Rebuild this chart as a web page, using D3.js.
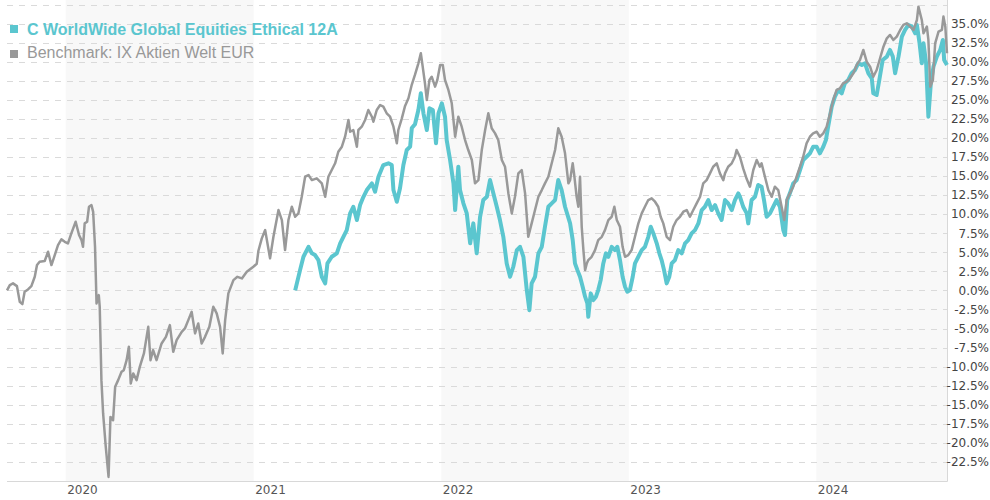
<!DOCTYPE html>
<html lang="en">
<head>
<meta charset="UTF-8">
<title>C WorldWide Global Equities Ethical 12A</title>
<script src="https://d3js.org/d3.v7.min.js"></script>
<style>
  body { margin: 0; background: #fff; }
  svg { display: block; }
</style>
</head>
<body>
<svg id="chart" width="990" height="500"></svg>
<script>
// series names
var fundName = "C WorldWide Global Equities Ethical 12A";
var benchName = "Benchmark: IX Aktien Welt EUR";

// dates as decimal years, values in %
var benchDates = [2019.687,2019.702,2019.719,2019.740,2019.755,2019.769,2019.781,2019.799,2019.817,2019.835,
  2019.847,2019.861,2019.888,2019.906,2019.924,2019.936,2019.959,2019.977,2019.995,2020.012,
  2020.030,2020.053,2020.071,2020.084,2020.092,2020.101,2020.114,2020.124,2020.137,2020.146,
  2020.156,2020.164,2020.176,2020.181,2020.190,2020.199,2020.213,2020.228,2020.238,2020.252,
  2020.263,2020.279,2020.297,2020.309,2020.324,2020.336,2020.346,2020.359,2020.377,2020.394,
  2020.416,2020.439,2020.451,2020.465,2020.483,2020.510,2020.533,2020.554,2020.572,2020.590,
  2020.617,2020.634,2020.652,2020.670,2020.688,2020.705,2020.723,2020.741,2020.764,2020.785,
  2020.803,2020.821,2020.835,2020.848,2020.865,2020.892,2020.913,2020.937,2020.963,2020.998,
  2021.016,2021.025,2021.043,2021.061,2021.087,2021.105,2021.132,2021.150,2021.167,2021.185,
  2021.203,2021.221,2021.238,2021.256,2021.274,2021.292,2021.310,2021.336,2021.363,2021.381,
  2021.398,2021.416,2021.434,2021.451,2021.470,2021.487,2021.505,2021.514,2021.531,2021.550,
  2021.558,2021.576,2021.594,2021.611,2021.630,2021.638,2021.656,2021.674,2021.691,2021.709,
  2021.727,2021.745,2021.763,2021.771,2021.789,2021.807,2021.825,2021.843,2021.860,2021.878,
  2021.891,2021.901,2021.913,2021.923,2021.937,2021.949,2021.967,2021.979,2021.994,2022.008,
  2022.020,2022.038,2022.056,2022.074,2022.091,2022.109,2022.127,2022.144,2022.163,2022.180,
  2022.198,2022.216,2022.234,2022.251,2022.269,2022.287,2022.304,2022.323,2022.340,2022.358,
  2022.376,2022.393,2022.411,2022.429,2022.447,2022.464,2022.482,2022.500,2022.518,2022.536,
  2022.553,2022.571,2022.589,2022.607,2022.624,2022.642,2022.660,2022.678,2022.687,2022.701,
  2022.708,2022.722,2022.731,2022.740,2022.749,2022.758,2022.767,2022.776,2022.784,2022.802,
  2022.820,2022.837,2022.856,2022.873,2022.891,2022.909,2022.923,2022.936,2022.953,2022.967,
  2022.980,2022.997,2023.015,2023.033,2023.051,2023.069,2023.086,2023.104,2023.122,2023.140,
  2023.157,2023.170,2023.184,2023.202,2023.220,2023.237,2023.255,2023.273,2023.291,2023.309,
  2023.326,2023.344,2023.362,2023.380,2023.397,2023.415,2023.433,2023.450,2023.469,2023.486,
  2023.504,2023.513,2023.530,2023.549,2023.566,2023.575,2023.593,2023.610,2023.629,2023.646,
  2023.664,2023.682,2023.699,2023.708,2023.726,2023.744,2023.762,2023.779,2023.797,2023.815,
  2023.829,2023.842,2023.859,2023.877,2023.895,2023.913,2023.930,2023.948,2023.966,2023.983,
  2024.002,2024.019,2024.037,2024.055,2024.073,2024.090,2024.108,2024.126,2024.143,2024.162,
  2024.179,2024.197,2024.215,2024.232,2024.250,2024.268,2024.286,2024.303,2024.321,2024.339,
  2024.357,2024.375,2024.392,2024.410,2024.428,2024.446,2024.463,2024.481,2024.499,2024.517,
  2024.535,2024.543,2024.561,2024.570,2024.588,2024.596,2024.606,2024.620,2024.632,2024.650,
  2024.668,2024.676,2024.686,2024.695];
var benchValues = [0.0,0.70,0.92,0.56,-1.49,-1.80,-0.18,0.13,0.56,1.79,
  3.32,3.75,3.85,5.07,3.32,4.20,5.95,6.69,6.38,6.17,
  7.48,9.00,7.26,6.60,5.72,8.79,9.00,10.97,11.19,10.30,
  5.72,-1.71,-0.62,-2.15,-11.77,-16.14,-20.50,-24.46,-16.59,-17.02,
  -12.65,-11.77,-10.68,-10.46,-9.15,-7.40,-12.20,-10.89,-11.77,-10.03,
  -8.27,-4.78,-9.15,-7.83,-9.15,-6.96,-6.09,-4.55,-8.06,-6.52,
  -5.43,-4.99,-3.90,-2.81,-5.64,-4.33,-6.96,-6.09,-4.78,-2.15,
  -3.02,-4.78,-8.27,-3.90,-0.39,1.35,1.78,1.57,2.44,3.10,
  3.50,5.20,6.82,7.91,4.20,7.03,10.54,9.23,5.29,9.23,
  10.97,9.66,10.10,12.28,14.91,15.13,14.47,14.70,14.04,12.28,
  14.91,15.79,16.67,18.19,18.85,20.16,22.35,20.81,21.04,18.85,
  21.04,21.47,22.35,23.66,22.78,22.13,23.66,24.32,24.10,23.23,
  22.78,21.47,19.29,21.04,22.50,24.20,25.20,27.00,28.30,29.79,
  31.10,29.35,27.17,24.97,27.60,28.03,26.72,27.60,29.57,29.57,
  27.60,26.29,24.54,20.16,22.78,21.47,19.72,18.41,17.10,14.04,
  14.47,18.41,21.04,23.23,21.26,20.60,19.72,17.10,16.22,12.72,
  10.10,12.28,15.35,15.79,12.72,7.03,8.79,10.54,12.28,13.16,
  14.04,14.91,16.67,18.41,21.26,20.16,17.98,14.04,14.47,16.67,
  15.35,12.28,10.97,14.91,8.35,5.29,2.66,3.54,3.98,4.41,
  5.29,6.60,7.03,7.91,9.23,9.66,10.97,9.23,8.35,5.72,
  4.41,4.63,5.29,7.03,8.79,10.10,10.97,11.85,12.07,11.63,
  10.97,9.66,8.79,7.03,6.60,8.35,9.23,9.66,10.32,10.54,
  9.66,10.54,11.42,12.28,14.04,14.47,15.35,16.22,16.67,15.35,
  14.47,15.35,16.22,16.67,17.53,18.41,17.50,16.00,14.60,13.60,
  15.79,17.10,16.22,16.67,14.91,13.16,12.28,13.60,13.16,10.97,
  9.23,11.85,12.73,13.60,14.91,16.22,17.53,19.29,20.16,20.60,
  20.81,20.16,20.60,21.47,23.23,24.97,26.29,26.51,27.17,27.38,
  27.82,28.48,29.57,30.22,31.54,30.00,29.34,28.03,28.91,30.45,
  31.97,33.07,33.50,32.85,33.28,34.16,34.82,35.04,34.60,34.16,
  35.47,37.22,35.47,33.73,34.60,32.85,26.72,27.60,32.41,33.94,
  34.16,35.92,34.60,31.10];

var fundDates = [2021.221,2021.247,2021.265,2021.292,2021.310,2021.327,2021.345,2021.363,2021.381,2021.393,
  2021.416,2021.443,2021.461,2021.478,2021.496,2021.514,2021.531,2021.550,2021.567,2021.585,
  2021.603,2021.630,2021.647,2021.665,2021.691,2021.718,2021.736,2021.745,2021.763,2021.780,
  2021.798,2021.816,2021.834,2021.843,2021.860,2021.878,2021.891,2021.905,2021.923,2021.937,
  2021.955,2021.972,2021.985,2022.003,2022.020,2022.029,2022.047,2022.065,2022.074,2022.091,
  2022.100,2022.118,2022.136,2022.154,2022.171,2022.189,2022.207,2022.224,2022.243,2022.260,
  2022.278,2022.296,2022.313,2022.331,2022.349,2022.367,2022.384,2022.403,2022.420,2022.438,
  2022.456,2022.470,2022.482,2022.500,2022.518,2022.536,2022.553,2022.571,2022.589,2022.607,
  2022.624,2022.642,2022.660,2022.687,2022.701,2022.713,2022.726,2022.740,2022.754,2022.767,
  2022.779,2022.784,2022.797,2022.811,2022.825,2022.837,2022.850,2022.864,2022.878,2022.891,
  2022.909,2022.926,2022.939,2022.953,2022.967,2022.980,2022.992,2023.006,2023.021,2023.033,
  2023.051,2023.069,2023.086,2023.104,2023.117,2023.131,2023.149,2023.163,2023.175,2023.188,
  2023.202,2023.216,2023.229,2023.246,2023.264,2023.282,2023.300,2023.317,2023.335,2023.353,
  2023.371,2023.389,2023.406,2023.424,2023.442,2023.460,2023.477,2023.495,2023.513,2023.530,
  2023.549,2023.566,2023.584,2023.593,2023.610,2023.629,2023.637,2023.655,2023.673,2023.690,
  2023.708,2023.721,2023.735,2023.753,2023.770,2023.788,2023.806,2023.824,2023.833,2023.845,
  2023.859,2023.877,2023.895,2023.913,2023.930,2023.948,2023.966,2023.983,2024.002,2024.019,
  2024.037,2024.051,2024.063,2024.082,2024.099,2024.117,2024.135,2024.152,2024.170,2024.188,
  2024.206,2024.223,2024.242,2024.259,2024.277,2024.295,2024.303,2024.321,2024.335,2024.353,
  2024.375,2024.392,2024.407,2024.419,2024.437,2024.455,2024.472,2024.490,2024.508,2024.526,
  2024.535,2024.549,2024.561,2024.570,2024.584,2024.596,2024.609,2024.623,2024.641,2024.659,
  2024.673,2024.680,2024.695];
var fundValues = [0.0,2.66,4.41,5.72,4.86,4.63,3.98,1.79,0.92,3.54,
  4.41,4.86,6.17,7.03,7.91,10.10,10.97,9.23,11.19,12.28,
  13.16,14.04,12.94,14.91,16.44,16.67,16.44,13.16,11.63,13.39,
  16.45,18.41,18.85,21.30,21.80,23.66,25.85,23.23,21.04,23.88,
  23.66,19.29,23.23,24.54,22.78,19.72,17.10,14.04,10.54,16.22,
  13.16,11.42,10.10,6.17,8.79,4.86,9.66,11.85,12.28,14.47,
  12.72,10.97,9.23,7.03,3.54,1.79,3.10,5.29,5.72,4.41,
  0.04,-2.59,0.92,1.79,4.86,5.72,8.35,10.97,11.42,11.85,
  14.47,13.16,10.97,8.79,6.60,3.54,2.66,1.79,0.48,-0.83,
  -1.71,-3.46,-0.39,-1.27,-0.83,0.04,1.35,3.54,4.86,4.41,
  5.72,5.29,5.72,3.98,1.79,0.48,-0.18,0.04,1.79,3.54,
  4.41,5.29,5.72,7.03,8.35,7.48,6.17,4.86,3.98,2.66,
  0.92,1.79,3.54,3.98,5.29,4.86,6.17,6.60,7.48,7.91,
  8.79,10.54,10.97,11.85,10.54,11.19,10.10,9.23,11.85,11.42,
  10.54,11.85,12.72,12.28,10.97,10.10,8.79,11.85,12.28,13.82,
  13.60,11.85,9.66,10.10,10.97,11.85,10.97,7.91,7.26,11.85,
  12.73,14.04,14.47,15.79,17.10,17.53,17.98,18.84,18.84,17.98,
  18.84,19.72,21.47,24.10,25.41,26.29,25.85,27.17,27.60,28.48,
  28.91,29.79,29.57,29.79,28.48,27.82,25.85,25.63,27.60,30.22,
  30.66,31.54,30.66,28.48,30.66,33.28,34.16,34.82,34.60,33.73,
  34.82,32.41,29.79,32.41,29.79,22.78,27.17,29.34,30.66,31.54,
  32.85,30.22,29.57];

var yearTicks = [2020, 2021, 2022, 2023, 2024];
var shadedYears = [2020, 2022, 2024];
var gridValues = [-22.5,-20,-17.5,-15,-12.5,-10,-7.5,-5,-2.5,0,2.5,5,7.5,10,12.5,15,17.5,20,22.5,25,27.5,30,32.5,35,37.5];
var yLabelValues = [-22.5,-20,-17.5,-15,-12.5,-10,-7.5,-5,-2.5,0,2.5,5,7.5,10,12.5,15,17.5,20,22.5,25,27.5,30,32.5,35];

var fundColor = "#5bc6cf",
    benchColor = "#999999";

// decimal year -> Date
function toDate(t) {
    var y = Math.floor(t);
    var s = Date.UTC(y, 0, 1), e = Date.UTC(y + 1, 0, 1);
    return new Date(s + (t - y) * (e - s));
}

var bench = benchDates.map(function (d, i) { return { date: toDate(d), value: benchValues[i] }; });
var fund = fundDates.map(function (d, i) { return { date: toDate(d), value: fundValues[i] }; });

var svg = d3.select("#chart"),
    plot = { left: 7, right: 947, top: 0, bottom: 481 };

var x = d3.scaleUtc()
    .domain(d3.extent(bench, function (d) { return d.date; }))
    .range([plot.left, plot.right]);

var y = d3.scaleLinear()
    .domain([-25, 37.5])
    .range([plot.bottom, 4.5]);

// alternating year bands
svg.append("g").selectAll("rect")
    .data(shadedYears)
    .enter().append("rect")
    .attr("x", function (d) { return x(toDate(d)); })
    .attr("y", plot.top)
    .attr("width", function (d) { return Math.min(x(toDate(d + 1)), plot.right) - x(toDate(d)); })
    .attr("height", plot.bottom - plot.top)
    .attr("fill", "#f8f8f8");

// dashed grid
svg.append("g").selectAll("line")
    .data(gridValues)
    .enter().append("line")
    .attr("x1", plot.left)
    .attr("x2", plot.right)
    .attr("y1", function (d) { return Math.round(y(d)) + 0.5; })
    .attr("y2", function (d) { return Math.round(y(d)) + 0.5; })
    .attr("stroke", "#dadada")
    .attr("stroke-width", 1)
    .attr("stroke-dasharray", "6,6");

// axis lines
svg.append("line")
    .attr("x1", plot.left).attr("x2", plot.right + 0.5)
    .attr("y1", plot.bottom + 0.5).attr("y2", plot.bottom + 0.5)
    .attr("stroke", "#d8d8d8");
svg.append("line")
    .attr("x1", plot.right + 0.5).attr("x2", plot.right + 0.5)
    .attr("y1", plot.top).attr("y2", plot.bottom + 0.5)
    .attr("stroke", "#d8d8d8");

// lines
var line = d3.line()
    .x(function (d) { return x(d.date); })
    .y(function (d) { return y(d.value); });

svg.append("path")
    .datum(fund)
    .attr("fill", "none")
    .attr("stroke", fundColor)
    .attr("stroke-width", 4)
    .attr("stroke-linejoin", "round")
    .attr("d", line);

svg.append("path")
    .datum(bench)
    .attr("fill", "none")
    .attr("stroke", benchColor)
    .attr("stroke-width", 2.5)
    .attr("stroke-linejoin", "round")
    .attr("d", line);

// y labels (right)
svg.append("g").selectAll("text")
    .data(yLabelValues)
    .enter().append("text")
    .attr("x", 989)
    .attr("y", function (d) { return y(d); })
    .attr("dy", "0.36em")
    .attr("text-anchor", "end")
    .attr("font-family", "DejaVu Sans, Verdana, sans-serif")
    .attr("font-size", 12)
    .attr("fill", "#444")
    .text(function (d) { return d.toFixed(1) + "%"; });

// x labels
svg.append("g").selectAll("text")
    .data(yearTicks)
    .enter().append("text")
    .attr("x", function (d) { return x(toDate(d)) + 1.5; })
    .attr("y", 494)
    .attr("font-family", "DejaVu Sans, Verdana, sans-serif")
    .attr("font-size", 12)
    .attr("fill", "#555")
    .text(function (d) { return d; });

// legend
var legend = svg.append("g").attr("font-family", "Liberation Sans, Arial, sans-serif").attr("font-size", 16);
legend.append("rect").attr("x", 10).attr("y", 25).attr("width", 8).attr("height", 8).attr("fill", fundColor);
legend.append("text").attr("x", 27).attr("y", 34.5).attr("font-weight", "bold").attr("fill", fundColor).text(fundName);
legend.append("rect").attr("x", 10).attr("y", 50).attr("width", 8).attr("height", 8).attr("fill", benchColor);
legend.append("text").attr("x", 27).attr("y", 58).attr("fill", benchColor).text(benchName);
</script>
</body>
</html>
